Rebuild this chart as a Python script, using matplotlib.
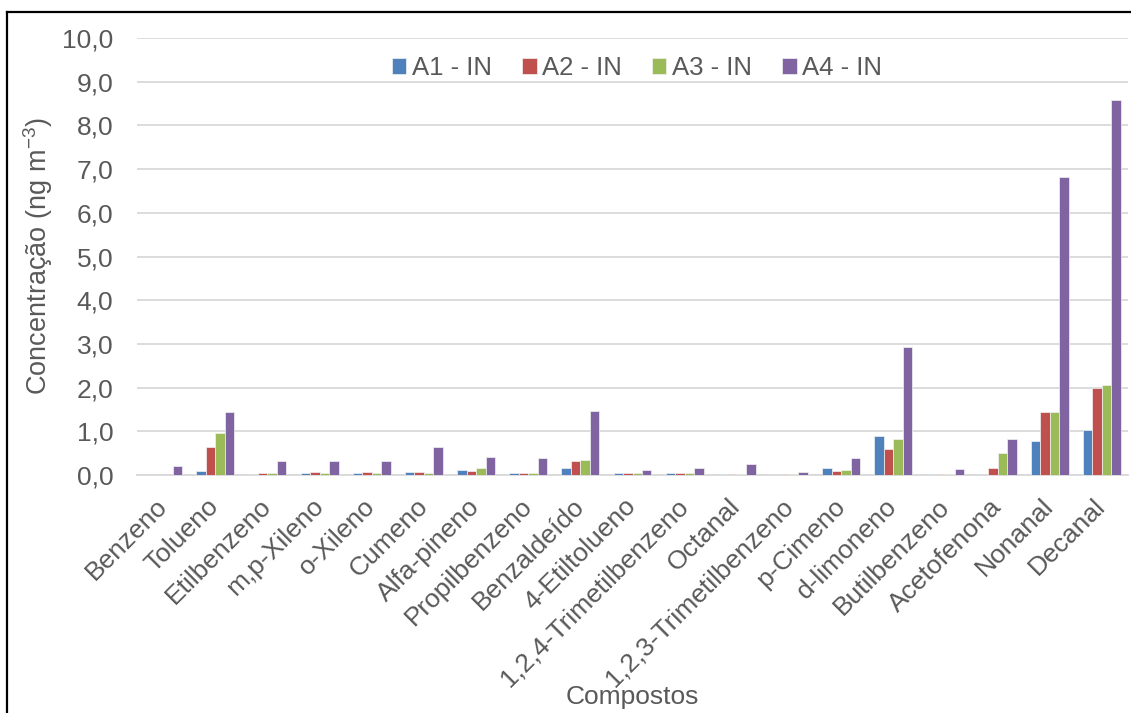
import numpy as np
import matplotlib
matplotlib.use('Agg')
import matplotlib.pyplot as plt
from matplotlib.lines import Line2D

# Style
TEXT_COLOR = '#595959'
GRID_COLOR = '#d9d9d9'
COLORS = ['#4f81bd', '#c0504d', '#9bbb59', '#8064a2']

plt.rcParams['font.family'] = ['Liberation Sans', 'DejaVu Sans']
plt.rcParams['mathtext.fontset'] = 'custom'
plt.rcParams['mathtext.rm'] = 'Liberation Sans'

# Data (ng m-3)
compostos = ['Benzeno', 'Tolueno', 'Etilbenzeno', 'm,p-Xileno', 'o-Xileno', 'Cumeno',
             'Alfa-pineno', 'Propilbenzeno', 'Benzaldeído', '4-Etiltolueno',
             '1,2,4-Trimetilbenzeno', 'Octanal', '1,2,3-Trimetilbenzeno', 'p-Cimeno',
             'd-limoneno', 'Butilbenzeno', 'Acetofenona', 'Nonanal', 'Decanal']
series = ['A1 - IN', 'A2 - IN', 'A3 - IN', 'A4 - IN']
a1 = [0.00, 0.10, 0.03, 0.05, 0.05, 0.06, 0.12, 0.05, 0.16, 0.05, 0.05, 0.02, 0.02, 0.16, 0.89, 0.02, 0.02, 0.77, 1.02]
a2 = [0.00, 0.64, 0.04, 0.06, 0.07, 0.07, 0.09, 0.05, 0.33, 0.05, 0.05, 0.02, 0.02, 0.10, 0.60, 0.02, 0.16, 1.45, 1.99]
a3 = [0.00, 0.95, 0.05, 0.05, 0.05, 0.04, 0.17, 0.04, 0.35, 0.05, 0.05, 0.02, 0.02, 0.12, 0.82, 0.02, 0.51, 1.45, 2.06]
a4 = [0.20, 1.45, 0.33, 0.31, 0.32, 0.64, 0.42, 0.39, 1.46, 0.12, 0.17, 0.26, 0.06, 0.39, 2.93, 0.14, 0.82, 6.82, 8.58]

W, H = 1131, 713
fig = plt.figure(figsize=(W / 100, H / 100), dpi=100)
fig.patch.set_facecolor('white')

ax = fig.add_axes([137 / W, 1 - 475 / H, (1128 - 137) / W, (475 - 38) / H])

x = np.arange(len(compostos))
width = 0.182
for i, (vals, name) in enumerate(zip([a1, a2, a3, a4], series)):
    ax.bar(x + (i - 1.5) * width, vals, width, color=COLORS[i], label=name,
           edgecolor='#f2f2f2', linewidth=0.5, zorder=3)

ax.set_xlim(-0.5, len(compostos) - 0.5)
ax.set_ylim(0, 10)
ax.set_yticks(np.arange(0, 10.1, 1))
ax.set_yticklabels([f'{v:.1f}'.replace('.', ',') for v in np.arange(0, 10.1, 1)])
ax.yaxis.grid(True, color=GRID_COLOR, linewidth=1.3, zorder=0)
ax.set_axisbelow(True)

for s in ['top', 'right', 'left']:
    ax.spines[s].set_visible(False)
ax.spines['bottom'].set_color(GRID_COLOR)
ax.spines['bottom'].set_linewidth(1.3)

ax.tick_params(axis='y', length=0, pad=17, labelsize=19, labelcolor=TEXT_COLOR)
ax.tick_params(axis='x', length=0, pad=20, labelsize=19, labelcolor=TEXT_COLOR)
ax.set_xticks(x)
ax.set_xticklabels(compostos, rotation=45, ha='right', va='center', rotation_mode='anchor')

ax.set_ylabel('Concentração (ng m$^{\\mathregular{-3}}$)', fontsize=19.5, color=TEXT_COLOR, labelpad=5)
fig.text(632 / W, 1 - 697 / H, 'Compostos', fontsize=19, color=TEXT_COLOR,
         ha='center', va='center')

ax.legend(ncol=4, loc='center', bbox_to_anchor=(637 / W, 1 - 68 / H),
          bbox_transform=fig.transFigure, frameon=False, fontsize=18.5,
          handlelength=0.55, handleheight=0.55, handletextpad=0.2,
          columnspacing=1.2, labelcolor=TEXT_COLOR)

# outer chart frame (only top and left visible in reference)
fig.add_artist(Line2D([7 / W, 7 / W], [0, 1 - 12 / H], color='black', linewidth=1.6,
                      transform=fig.transFigure))
fig.add_artist(Line2D([7 / W, 1], [1 - 12 / H, 1 - 12 / H], color='black', linewidth=1.6,
                      transform=fig.transFigure))

fig.savefig('out.png', dpi=100, facecolor='white')
